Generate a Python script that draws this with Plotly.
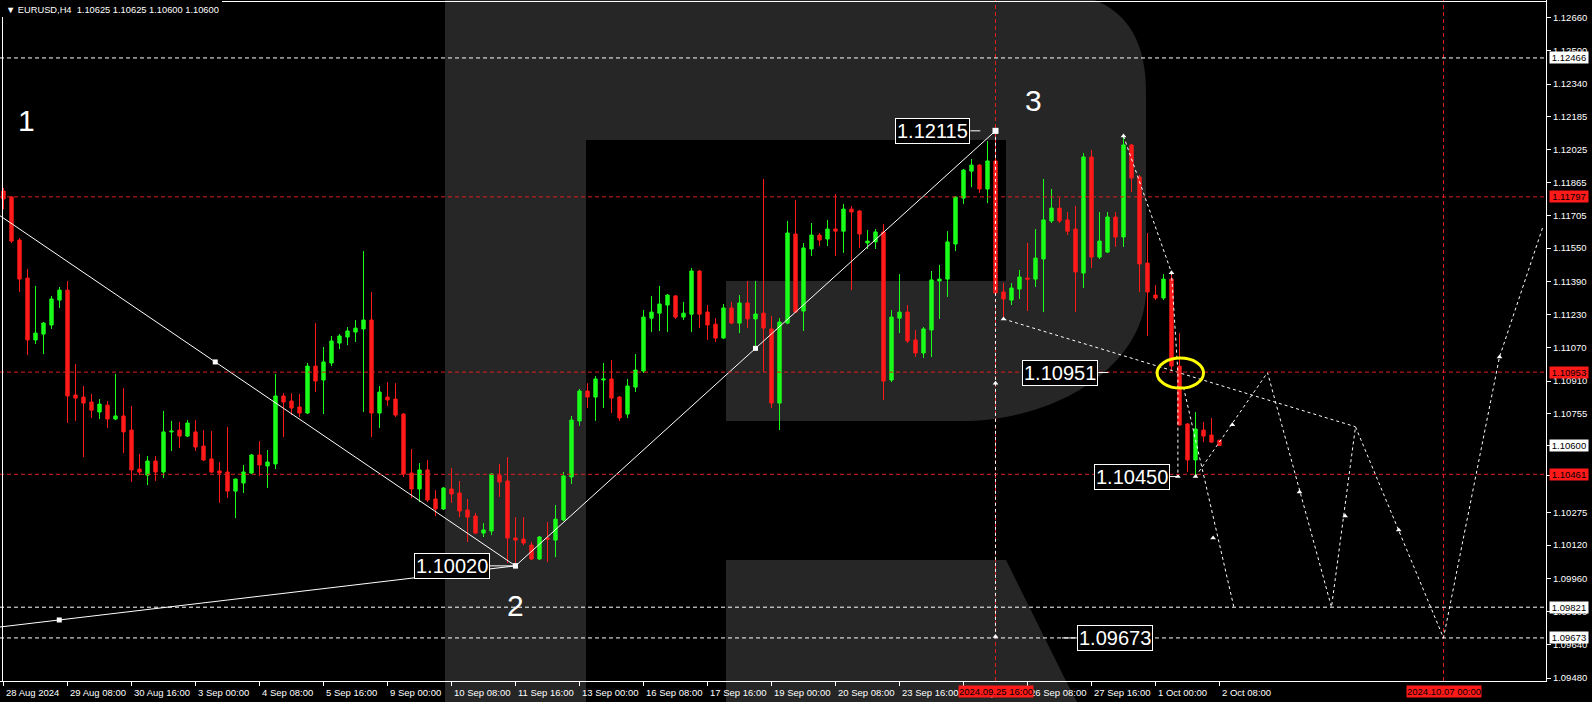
import plotly.graph_objects as go

# ---------------- data (EURUSD H4, bar index 0 = 28 Aug 2024 00:00) ----------------
opens = [1.11825,1.11796,1.11589,1.11406,1.11108,1.11136,1.11180,1.11300,1.11348,1.10843,
         1.10833,1.10809,1.10761,1.10794,1.10727,1.10742,1.10674,1.10486,1.10457,1.10525,
         1.10472,1.10665,1.10674,1.10645,1.10665,1.10597,1.10535,1.10477,1.10472,1.10380,
         1.10419,1.10467,1.10554,1.10501,1.10511,1.10838,1.10814,1.10785,1.10756,1.10982,
         1.10915,1.10997,1.11093,1.11122,1.11146,1.11161,1.11204,1.10756,1.10833,1.10823,
         1.10751,1.10467,1.10390,1.10482,1.10342,1.10294,1.10390,1.10371,1.10289,1.10260,
         1.10178,1.10188,1.10457,1.10429,1.10154,1.10149,1.10120,1.10053,1.10154,1.10144,
         1.10241,1.10448,1.10718,1.10862,1.10833,1.10915,1.10920,1.10833,1.10751,1.10881,
         1.10958,1.11213,1.11237,1.11276,1.11320,1.11218,1.11232,1.11440,1.11242,1.11184,
         1.11117,1.11262,1.11189,1.11286,1.11209,1.11237,1.11161,1.10804,1.11189,1.11618,
         1.11247,1.11546,1.11613,1.11594,1.11642,1.11632,1.11738,1.11729,1.11575,1.11580,
         1.11628,1.10915,1.11213,1.11242,1.11108,1.11045,1.11156,1.11392,1.11401,1.11570,
         1.11791,1.11921,1.11950,1.11835,1.11970,1.11339,1.11300,1.11353,1.11406,1.11401,
         1.11498,1.11681,1.11743,1.11686,1.11642,1.11430,1.11989,1.11507,1.11531,1.11700,
         1.11604,1.12047,1.11893,1.11478,1.11324,1.11310,1.11401,1.10982,1.10703,1.10530,
         1.10674,1.10650,1.10625]
highs = [1.11840,1.11801,1.11599,1.11450,1.11368,1.11194,1.11320,1.11363,1.11392,1.10992,
         1.10886,1.10848,1.10823,1.10814,1.10944,1.10876,1.10790,1.10559,1.10549,1.10549,
         1.10766,1.10718,1.10713,1.10722,1.10722,1.10674,1.10669,1.10520,1.10689,1.10440,
         1.10506,1.10559,1.10621,1.10578,1.10944,1.10852,1.10852,1.10848,1.10997,1.11189,
         1.11074,1.11127,1.11136,1.11170,1.11204,1.11536,1.11339,1.10886,1.10905,1.10900,
         1.10756,1.10583,1.10515,1.10530,1.10385,1.10400,1.10491,1.10429,1.10342,1.10275,
         1.10226,1.10467,1.10511,1.10544,1.10255,1.10255,1.10135,1.10164,1.10231,1.10313,
         1.10472,1.10742,1.10872,1.10900,1.10934,1.10997,1.11011,1.10838,1.10920,1.11040,
         1.11252,1.11320,1.11368,1.11329,1.11324,1.11291,1.11454,1.11445,1.11276,1.11213,
         1.11281,1.11291,1.11324,1.11392,1.11392,1.11883,1.11223,1.11213,1.11681,1.11782,
         1.11575,1.11671,1.11623,1.11686,1.11811,1.11763,1.11753,1.11734,1.11637,1.11642,
         1.11666,1.11252,1.11425,1.11276,1.11156,1.11170,1.11440,1.11469,1.11632,1.11801,
         1.11931,1.11979,1.11955,1.12066,1.12115,1.11382,1.11382,1.11445,1.11575,1.11642,
         1.11883,1.11835,1.11791,1.11724,1.11753,1.12008,1.12023,1.11724,1.11724,1.11724,
         1.12085,1.12052,1.11902,1.11623,1.11372,1.11425,1.11430,1.11141,1.10708,1.10761,
         1.10713,1.10732,1.10625]
lows = [1.11738,1.11575,1.11339,1.11035,1.11088,1.11040,1.11161,1.11262,1.10708,1.10718,
        1.10544,1.10732,1.10727,1.10684,1.10722,1.10563,1.10424,1.10457,1.10409,1.10429,
        1.10443,1.10573,1.10587,1.10640,1.10573,1.10525,1.10467,1.10323,1.10347,1.10250,
        1.10371,1.10462,1.10453,1.10395,1.10486,1.10640,1.10746,1.10737,1.10751,1.10857,
        1.10751,1.10982,1.11064,1.11083,1.11098,1.10761,1.10640,1.10684,1.10790,1.10737,
        1.10448,1.10347,1.10327,1.10327,1.10260,1.10289,1.10323,1.10255,1.10135,1.10173,
        1.10159,1.10168,1.10352,1.10034,1.10020,1.10120,1.10048,1.10048,1.10038,1.10062,
        1.10236,1.10414,1.10694,1.10780,1.10718,1.10780,1.10756,1.10718,1.10732,1.10857,
        1.10949,1.11146,1.11151,1.11146,1.11209,1.11204,1.11146,1.11165,1.11108,1.11098,
        1.11112,1.11184,1.11141,1.11165,1.11069,1.10954,1.10780,1.10674,1.11184,1.11237,
        1.11151,1.11512,1.11560,1.11560,1.11512,1.11527,1.11348,1.11551,1.11546,1.11546,
        1.10819,1.10905,1.11141,1.11093,1.11026,1.11021,1.11026,1.11209,1.11315,1.11536,
        1.11763,1.11844,1.11816,1.11767,1.11320,1.11213,1.11276,1.11305,1.11247,1.11363,
        1.11242,1.11671,1.11671,1.11613,1.11242,1.11358,1.11454,1.11498,1.11527,1.11556,
        1.11556,1.11820,1.11339,1.11127,1.11300,1.11300,1.10963,1.10694,1.10472,1.10450,
        1.10616,1.10612,1.10600]
closes = [1.11787,1.11584,1.11401,1.11108,1.11141,1.11189,1.11305,1.11348,1.10838,1.10828,
          1.10804,1.10770,1.10799,1.10727,1.10742,1.10665,1.10482,1.10472,1.10525,1.10472,
          1.10665,1.10669,1.10645,1.10708,1.10592,1.10530,1.10472,1.10467,1.10380,1.10438,
          1.10472,1.10554,1.10506,1.10520,1.10838,1.10809,1.10780,1.10756,1.10982,1.10910,
          1.11002,1.11103,1.11127,1.11151,1.11165,1.11204,1.10756,1.10857,1.10819,1.10746,
          1.10462,1.10390,1.10482,1.10337,1.10294,1.10395,1.10366,1.10284,1.10255,1.10178,
          1.10193,1.10462,1.10424,1.10154,1.10144,1.10130,1.10053,1.10159,1.10149,1.10245,
          1.10453,1.10722,1.10862,1.10833,1.10920,1.10920,1.10828,1.10732,1.10886,1.10963,
          1.11218,1.11242,1.11281,1.11324,1.11218,1.11237,1.11440,1.11232,1.11180,1.11117,
          1.11262,1.11189,1.11286,1.11209,1.11233,1.11165,1.10804,1.11194,1.11623,1.11242,
          1.11551,1.11613,1.11589,1.11642,1.11632,1.11738,1.11724,1.11618,1.11584,1.11628,
          1.10910,1.11218,1.11242,1.11103,1.11045,1.11161,1.11397,1.11401,1.11580,1.11796,
          1.11926,1.11950,1.11835,1.11970,1.11334,1.11305,1.11358,1.11411,1.11401,1.11502,
          1.11686,1.11743,1.11681,1.11632,1.11435,1.11989,1.11507,1.11584,1.11700,1.11604,
          1.12047,1.11888,1.11474,1.11339,1.11310,1.11401,1.10982,1.10698,1.10530,1.10679,
          1.10645,1.10616,1.10600]

xtick_bars = [0, 8, 16, 24, 32, 40, 48, 56, 64, 72, 80, 88, 96, 104, 112, 120, 128, 136, 144, 152]
xtick_text = ["28 Aug 2024", "29 Aug 08:00", "30 Aug 16:00", "3 Sep 00:00", "4 Sep 08:00",
              "5 Sep 16:00", "9 Sep 00:00", "10 Sep 08:00", "11 Sep 16:00", "13 Sep 00:00",
              "16 Sep 08:00", "17 Sep 16:00", "19 Sep 00:00", "20 Sep 08:00", "23 Sep 16:00",
              "25 Sep 00:00", "26 Sep 08:00", "27 Sep 16:00", "1 Oct 00:00", "2 Oct 08:00"]
ytick_vals = [1.12660, 1.12500, 1.12340, 1.12185, 1.12025, 1.11865, 1.11705, 1.11550, 1.11390,
              1.11230, 1.11070, 1.10910, 1.10755, 1.10600, 1.10455, 1.10275, 1.10120, 1.09960,
              1.09800, 1.09640, 1.09480]
ytick_text = ["%.5f" % v for v in ytick_vals]

# horizontal / vertical level lines
red_levels = [1.11797, 1.10953, 1.10461]
white_levels = [1.12466, 1.09821, 1.09673]
red_vlines = [124, 180]
red_vline_text = ["2024.09.25 16:00", "2024.10.07 00:00"]

# price boxes on the right axis
axis_box_price = [1.12466, 1.11797, 1.10953, 1.10600, 1.10461, 1.09821, 1.09673]
axis_box_bg = ["white", "red", "red", "white", "red", "white", "white"]

# wave (solid white) lines: bar index / price
wave_main_bar = [64, 124]
wave_main_px = [1.10020, 1.12115]
wave_down_bar = [-11.06, 64]
wave_down_px = [1.11984, 1.10020]
wave_flat_bar = [-50.06, 64]
wave_flat_px = [1.09499, 1.10020]

# wave numbers
wave_lbl = ["1", "2", "3"]
wave_lbl_bar = [2.9, 64.0, 128.7]
wave_lbl_px = [1.12167, 1.09827, 1.12263]

# price callout boxes: anchor bar, price, side offset px
callout_text = ["1.12115", "1.10951", "1.10450", "1.10020", "1.09673"]
callout_bar = [122.1, 138.1, 146.8, 63.9, 132.3]
callout_px = [1.12115, 1.10951, 1.10450, 1.10020, 1.09673]
callout_ax = [-10, -10, -8, -25, 15]

# dashed forecast paths
fc_vert_bar = [124, 124]
fc_vert_px = [1.12115, 1.09673]
fc_long_bar = [125, 169]
fc_long_px = [1.11209, 1.10690]
fc_a_bar = [140.0, 146.0, 146.8, 146.8]
fc_a_px = [1.12090, 1.11432, 1.10951, 1.10450]
fc_b_bar = [147.5, 153.8]
fc_b_px = [1.10880, 1.09821]
fc_c_bar = [149.0, 158.0, 166.0, 169.0, 180.0, 187.0, 192.4]
fc_c_px = [1.10450, 1.10951, 1.09821, 1.10690, 1.09673, 1.11026, 1.11650]
arrow_bar = [124, 124, 125, 140, 146, 151.2, 153.6, 162.0, 167.7, 174.4, 187.0, 149.0, 146.8]
arrow_px = [1.10900, 1.09680, 1.11209, 1.12090, 1.11432, 1.10154, 1.10700, 1.10376, 1.10260,
            1.10193, 1.11026, 1.10450, 1.10450]

# ellipse (bar / price extent)
ell_bar = [144.2, 150.0]
ell_px = [1.10876, 1.11021]

# ---------------- geometry ----------------
PLOT_W, PLOT_H = 1546, 681
BAR_PX = 8.0
x_lo = -3.5 / BAR_PX
x_hi = x_lo + PLOT_W / BAR_PX
PX_PER_UNIT = 20766.0
y_hi = 1.12745
y_lo = y_hi - PLOT_H / PX_PER_UNIT

def P(x, y):
    return "%.5f,%.5f" % (x / PLOT_W, 1 - y / PLOT_H)

GREEN = "#1aff1a"
RED = "#ff1a1a"
LOGO = "#262626"
RED_LINE = "#e01e1e"
FONT = "Liberation Sans"

bars = list(range(len(opens)))

fig = go.Figure()
fig.add_trace(go.Candlestick(
    x=bars, open=opens, high=highs, low=lows, close=closes,
    increasing=dict(line=dict(color=GREEN, width=1), fillcolor=GREEN),
    decreasing=dict(line=dict(color=RED, width=1), fillcolor=RED),
    whiskerwidth=0, hoverinfo="skip"))

# solid wave lines
for bx, py in [(wave_down_bar, wave_down_px), (wave_flat_bar, wave_flat_px), (wave_main_bar, wave_main_px)]:
    fig.add_trace(go.Scatter(x=bx, y=py, mode="lines", line=dict(color="white", width=1), hoverinfo="skip"))
    mx = (bx[0] + bx[1]) / 2
    my = (py[0] + py[1]) / 2
    fig.add_trace(go.Scatter(x=[mx, bx[1]], y=[my, py[1]], mode="markers",
                             marker=dict(symbol="square", size=5, color="white"), hoverinfo="skip"))
fig.add_trace(go.Scatter(x=[wave_main_bar[1]], y=[wave_main_px[1]], mode="markers",
                         marker=dict(symbol="square", size=6, color="white"), hoverinfo="skip"))

# dashed forecast lines
for bx, py in [(fc_vert_bar, fc_vert_px), (fc_long_bar, fc_long_px), (fc_a_bar, fc_a_px),
               (fc_b_bar, fc_b_px), (fc_c_bar, fc_c_px)]:
    fig.add_trace(go.Scatter(x=bx, y=py, mode="lines",
                             line=dict(color="white", width=1, dash="3px,3px"), hoverinfo="skip"))
fig.add_trace(go.Scatter(x=arrow_bar, y=arrow_px, mode="markers",
                         marker=dict(symbol="triangle-up", size=5, color="white"), hoverinfo="skip"))

shapes = []
# logo (big R) drawn behind everything
shapes.append(dict(type="rect", xref="paper", yref="paper", x0=445 / PLOT_W, x1=586 / PLOT_W,
                   y0=1 - 702 / PLOT_H, y1=1.01, fillcolor=LOGO, line=dict(width=0), layer="below"))
bowl = ("M " + P(586, -8) + " L " + P(1046, -8) + " Q " + P(1146, -8) + " " + P(1146, 92) +
        " L " + P(1146, 290) + " C " + P(1146, 362) + " " + P(1062, 421) + " " + P(960, 421) +
        " L " + P(726, 421) + " L " + P(726, 281) + " L " + P(1006, 281) + " L " + P(1006, 140) +
        " L " + P(586, 140) + " Z")
shapes.append(dict(type="path", xref="paper", yref="paper", path=bowl, fillcolor=LOGO,
                   line=dict(width=0), layer="below"))
leg = ("M " + P(726, 560) + " L " + P(1006, 560) + " L " + P(1066, 681) + " L " + P(1077, 702) +
       " L " + P(726, 702) + " Z")
shapes.append(dict(type="path", xref="paper", yref="paper", path=leg, fillcolor=LOGO,
                   line=dict(width=0), layer="below"))

for lv in red_levels:
    shapes.append(dict(type="line", xref="paper", yref="y", x0=0, x1=1, y0=lv, y1=lv,
                       line=dict(color=RED_LINE, width=1, dash="4px,3px"), layer="above"))
for lv in white_levels:
    shapes.append(dict(type="line", xref="paper", yref="y", x0=0, x1=1, y0=lv, y1=lv,
                       line=dict(color="white", width=1, dash="4px,3px"), layer="above"))
for vb in red_vlines:
    shapes.append(dict(type="line", xref="x", yref="paper", x0=vb, x1=vb, y0=0, y1=1,
                       line=dict(color=RED_LINE, width=1, dash="4px,3px"), layer="below"))
# ellipse
shapes.append(dict(type="circle", xref="x", yref="y", x0=ell_bar[0], x1=ell_bar[1],
                   y0=ell_px[0], y1=ell_px[1], line=dict(color="#ffff00", width=3), layer="above"))
# frame top/left
shapes.append(dict(type="line", xref="paper", yref="paper", x0=2.5 / PLOT_W, x1=1,
                   y0=1 - 1.5 / PLOT_H, y1=1 - 1.5 / PLOT_H, line=dict(color="white", width=1)))
shapes.append(dict(type="line", xref="paper", yref="paper", x0=2.5 / PLOT_W, x1=2.5 / PLOT_W,
                   y0=0, y1=1 - 1.5 / PLOT_H, line=dict(color="white", width=1)))
shapes.append(dict(type="rect", xref="paper", yref="paper", x0=0, x1=222 / PLOT_W,
                   y0=1 - 17 / PLOT_H, y1=1.01, fillcolor="black", line=dict(width=0), layer="above"))

ann = []
ann.append(dict(xref="paper", yref="paper", x=4 / PLOT_W, y=1 - 3 / PLOT_H, xanchor="left", yanchor="top",
                text="▼ EURUSD,H4  1.10625 1.10625 1.10600 1.10600", showarrow=False,
                font=dict(family=FONT, size=9.3, color="white")))
for b, t in zip(xtick_bars, xtick_text):
    ann.append(dict(xref="x", yref="paper", x=b, y=0, xanchor="left", yanchor="top", xshift=0,
                    yshift=-4, text=t, showarrow=False, font=dict(family=FONT, size=9.5, color="white")))
for b, t in zip(red_vlines, red_vline_text):
    ann.append(dict(xref="x", yref="paper", x=b, y=0, xanchor="center", yanchor="top",
                    yshift=-4, text=t, showarrow=False, bgcolor="#ff1a1a", borderpad=0,
                    font=dict(family=FONT, size=9.5, color="black")))
for pr, bg in zip(axis_box_price, axis_box_bg):
    ann.append(dict(xref="paper", yref="y", x=1, y=pr, xanchor="left", yanchor="middle", xshift=3,
                    text="%.5f" % pr, showarrow=False, bgcolor=("#ff1a1a" if bg == "red" else "white"),
                    borderpad=0, width=38, height=11, align="center",
                    font=dict(family=FONT, size=9.5, color="black")))
for t, b, pr in zip(wave_lbl, wave_lbl_bar, wave_lbl_px):
    ann.append(dict(xref="x", yref="y", x=b, y=pr, text=t, showarrow=False,
                    font=dict(family=FONT, size=30, color="white")))
for t, b, pr, ax in zip(callout_text, callout_bar, callout_px, callout_ax):
    ann.append(dict(xref="x", yref="y", x=b, y=pr, text=t, showarrow=True, ax=ax, ay=0,
                    arrowhead=0, arrowwidth=1, arrowcolor="white",
                    xanchor=("right" if ax < 0 else "left"), yanchor="middle",
                    bgcolor="black", bordercolor="white", borderwidth=1, borderpad=1,
                    font=dict(family=FONT, size=20, color="white")))

fig.update_layout(
    width=1592, height=702,
    margin=dict(l=0, r=46, t=0, b=21),
    paper_bgcolor="black", plot_bgcolor="rgba(0,0,0,0)",
    showlegend=False, hovermode=False,
    shapes=shapes, annotations=ann,
    boxgap=0.4,
    xaxis=dict(range=[x_lo, x_hi], showgrid=False, zeroline=False, rangeslider=dict(visible=False),
               tickvals=xtick_bars, ticks="outside", ticklen=4, tickcolor="white",
               showticklabels=False, showline=True, linecolor="white", linewidth=1),
    yaxis=dict(range=[y_lo, y_hi], side="right", showgrid=False, zeroline=False,
               tickvals=ytick_vals, ticktext=ytick_text, ticks="outside", ticklen=4,
               tickcolor="white", showline=True, linecolor="white", linewidth=1,
               tickfont=dict(family=FONT, size=9.5, color="white")),
)

fig.write_html("out.html", config={"displayModeBar": False},
               post_script="document.body.style.margin='0';document.body.style.overflow='hidden';"
                           "document.body.style.background='black';")
